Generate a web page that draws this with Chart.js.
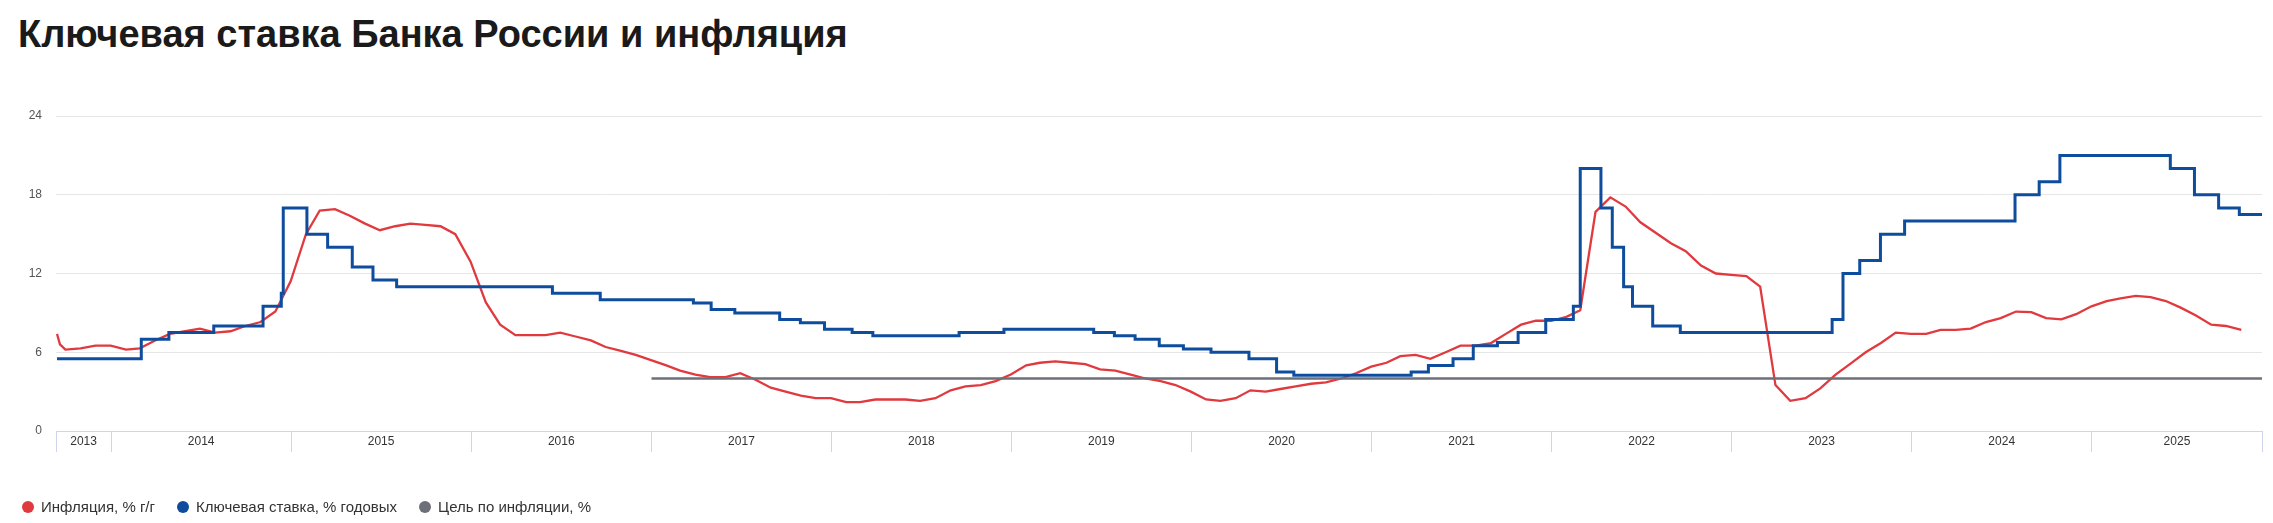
<!DOCTYPE html>
<html>
<head>
<meta charset="utf-8">
<script src="https://cdn.jsdelivr.net/npm/chart.js@4.4.1/dist/chart.umd.min.js"></script>
<style>
html,body{margin:0;padding:0;background:#fff;}
body{width:2273px;height:523px;position:relative;overflow:hidden;font-family:"Liberation Sans",Arial,sans-serif;}
#title{position:absolute;left:18px;top:10px;margin:0;font-size:38px;font-weight:bold;color:#1a1a1a;line-height:48px;white-space:nowrap;}
#wrap{position:absolute;left:0;top:0;width:2273px;height:523px;}
#legend{position:absolute;left:22px;top:497px;display:flex;align-items:center;font-size:15px;color:#333;line-height:20px;white-space:nowrap;}
.item{display:flex;align-items:center;margin-right:22px;}
.dot{width:12px;height:12px;border-radius:50%;margin-right:7px;}
</style>
</head>
<body>
<h1 id="title">Ключевая ставка Банка России и инфляция</h1>
<div id="wrap"><canvas id="c" width="2273" height="523"></canvas></div>
<div id="legend"></div>
<script>
// ---------- DATA ----------
const seriesNames = ['Инфляция, % г/г', 'Ключевая ставка, % годовых', 'Цель по инфляции, %'];

// Inflation, % y/y (first two are the short start of the series, rest are month-end values)
const inflationDates = [
  '2013-09-13','2013-09-19',
  '2013-09','2013-10','2013-11','2013-12',
  '2014-01','2014-02','2014-03','2014-04','2014-05','2014-06','2014-07','2014-08','2014-09','2014-10','2014-11','2014-12',
  '2015-01','2015-02','2015-03','2015-04','2015-05','2015-06','2015-07','2015-08','2015-09','2015-10','2015-11','2015-12',
  '2016-01','2016-02','2016-03','2016-04','2016-05','2016-06','2016-07','2016-08','2016-09','2016-10','2016-11','2016-12',
  '2017-01','2017-02','2017-03','2017-04','2017-05','2017-06','2017-07','2017-08','2017-09','2017-10','2017-11','2017-12',
  '2018-01','2018-02','2018-03','2018-04','2018-05','2018-06','2018-07','2018-08','2018-09','2018-10','2018-11','2018-12',
  '2019-01','2019-02','2019-03','2019-04','2019-05','2019-06','2019-07','2019-08','2019-09','2019-10','2019-11','2019-12',
  '2020-01','2020-02','2020-03','2020-04','2020-05','2020-06','2020-07','2020-08','2020-09','2020-10','2020-11','2020-12',
  '2021-01','2021-02','2021-03','2021-04','2021-05','2021-06','2021-07','2021-08','2021-09','2021-10','2021-11','2021-12',
  '2022-01','2022-02','2022-03','2022-04','2022-05','2022-06','2022-07','2022-08','2022-09','2022-10','2022-11','2022-12',
  '2023-01','2023-02','2023-03','2023-04','2023-05','2023-06','2023-07','2023-08','2023-09','2023-10','2023-11','2023-12',
  '2024-01','2024-02','2024-03','2024-04','2024-05','2024-06','2024-07','2024-08','2024-09','2024-10','2024-11','2024-12',
  '2025-01','2025-02','2025-03','2025-04','2025-05','2025-06','2025-07','2025-08','2025-09','2025-10'
];
const inflationValues = [
  7.4, 6.6,
  6.2, 6.3, 6.5, 6.5,
  6.2, 6.3, 6.9, 7.4, 7.6, 7.8, 7.5, 7.6, 8.0, 8.3, 9.1, 11.4,
  15.0, 16.8, 16.9, 16.4, 15.8, 15.3, 15.6, 15.8, 15.7, 15.6, 15.0, 12.9,
  9.8, 8.1, 7.3, 7.3, 7.3, 7.5, 7.2, 6.9, 6.4, 6.1, 5.8, 5.4,
  5.0, 4.6, 4.3, 4.1, 4.1, 4.4, 3.9, 3.3, 3.0, 2.7, 2.5, 2.5,
  2.2, 2.2, 2.4, 2.4, 2.4, 2.3, 2.5, 3.1, 3.4, 3.5, 3.8, 4.3,
  5.0, 5.2, 5.3, 5.2, 5.1, 4.7, 4.6, 4.3, 4.0, 3.8, 3.5, 3.0,
  2.4, 2.3, 2.5, 3.1, 3.0, 3.2, 3.4, 3.6, 3.7, 4.0, 4.4, 4.9,
  5.2, 5.7, 5.8, 5.5, 6.0, 6.5, 6.5, 6.7, 7.4, 8.1, 8.4, 8.4,
  8.7, 9.2, 16.7, 17.8, 17.1, 15.9, 15.1, 14.3, 13.7, 12.6, 12.0, 11.9,
  11.8, 11.0, 3.5, 2.3, 2.5, 3.25, 4.3, 5.15, 6.0, 6.7, 7.5, 7.4,
  7.4, 7.7, 7.7, 7.8, 8.3, 8.6, 9.1, 9.05, 8.6, 8.5, 8.9, 9.5,
  9.9, 10.1, 10.3, 10.2, 9.9, 9.4, 8.8, 8.1, 8.0, 7.7
];

// Key rate: date of decision taking effect and new level, % p.a.
const rateDates = [
  '2013-09-13','2014-03-03','2014-04-28','2014-07-28','2014-11-05','2014-12-12','2014-12-16',
  '2015-02-02','2015-03-16','2015-05-05','2015-06-16','2015-08-03',
  '2016-06-14','2016-09-19',
  '2017-03-27','2017-05-02','2017-06-19','2017-09-18','2017-10-30','2017-12-18',
  '2018-02-12','2018-03-26','2018-09-17','2018-12-17',
  '2019-06-17','2019-07-29','2019-09-09','2019-10-28','2019-12-16',
  '2020-02-10','2020-04-27','2020-06-22','2020-07-27',
  '2021-03-22','2021-04-26','2021-06-15','2021-07-26','2021-09-13','2021-10-25','2021-12-20',
  '2022-02-14','2022-02-28','2022-04-11','2022-05-04','2022-05-27','2022-06-14','2022-07-25','2022-09-19',
  '2023-07-24','2023-08-15','2023-09-18','2023-10-30','2023-12-18',
  '2024-07-29','2024-09-16','2024-10-28',
  '2025-06-09','2025-07-28','2025-09-15','2025-10-27'
];
const rateValues = [
  5.5, 7.0, 7.5, 8.0, 9.5, 10.5, 17.0,
  15.0, 14.0, 12.5, 11.5, 11.0,
  10.5, 10.0,
  9.75, 9.25, 9.0, 8.5, 8.25, 7.75,
  7.5, 7.25, 7.5, 7.75,
  7.5, 7.25, 7.0, 6.5, 6.25,
  6.0, 5.5, 4.5, 4.25,
  4.5, 5.0, 5.5, 6.5, 6.75, 7.5, 8.5,
  9.5, 20.0, 17.0, 14.0, 11.0, 9.5, 8.0, 7.5,
  8.5, 12.0, 13.0, 15.0, 16.0,
  18.0, 19.0, 21.0,
  20.0, 18.0, 17.0, 16.5
];

// Inflation target
const targetDates = ['2017-01-01', '2025-12-12'];
const targetValues = [4, 4];

// Axis
const xStart = '2013-09-11';
const xEnd = '2025-12-12';
const yearLabels = ['2013','2014','2015','2016','2017','2018','2019','2020','2021','2022','2023','2024','2025'];
const yTicks = [0, 6, 12, 18, 24];

const colors = ['#e0393e', '#0e4d9e', '#6e7079'];

// ---------- BUILD ----------
function toMs(s) {
  if (s.length > 7) return Date.parse(s + 'T00:00:00Z');
  const [y, m] = s.split('-').map(Number);
  return Date.UTC(y, m, 0); // month end
}
const xMin = toMs(xStart), xMax = toMs(xEnd);

const inflationData = inflationDates.map((d, i) => ({x: toMs(d), y: inflationValues[i]}));
const rateData = rateDates.map((d, i) => ({x: toMs(d), y: rateValues[i]}));
rateData.push({x: xMax, y: rateValues[rateValues.length - 1]});
const targetData = targetDates.map((d, i) => ({x: toMs(d), y: targetValues[i]}));

const boundaries = [xMin];
yearLabels.slice(1).forEach(y => boundaries.push(Date.UTC(+y, 0, 1)));
boundaries.push(xMax);
const boundarySet = new Set(boundaries);
const labelMap = new Map();
yearLabels.forEach((y, i) => labelMap.set((boundaries[i] + boundaries[i + 1]) / 2, y));
const allTicks = boundaries.concat([...labelMap.keys()]).sort((a, b) => a - b);

Chart.defaults.font.family = '"Liberation Sans", Arial, sans-serif';

new Chart(document.getElementById('c'), {
  type: 'line',
  data: {
    datasets: [
      {label: seriesNames[0], data: inflationData, borderColor: colors[0], backgroundColor: colors[0],
       borderWidth: 2.3, pointRadius: 0, tension: 0, order: 3},
      {label: seriesNames[1], data: rateData, borderColor: colors[1], backgroundColor: colors[1],
       borderWidth: 3, pointRadius: 0, stepped: 'before', order: 2},
      {label: seriesNames[2], data: targetData, borderColor: colors[2], backgroundColor: colors[2],
       borderWidth: 2.5, pointRadius: 0, order: 1}
    ]
  },
  options: {
    responsive: false,
    animation: false,
    devicePixelRatio: 1,
    layout: {padding: {top: 116, right: 11, bottom: 71, left: 0}},
    plugins: {legend: {display: false}, tooltip: {enabled: false}},
    scales: {
      x: {
        type: 'linear', min: xMin, max: xMax,
        afterBuildTicks: s => { s.ticks = allTicks.map(v => ({value: v})); },
        afterFit: s => { s.height = 21; },
        border: {display: true, color: '#ccd6eb', width: 1},
        grid: {drawOnChartArea: false, drawTicks: true, tickLength: 21,
               color: ctx => (ctx.tick && boundarySet.has(ctx.tick.value)) ? '#ccd6eb' : 'rgba(0,0,0,0)'},
        ticks: {autoSkip: false, maxRotation: 0, minRotation: 0, padding: -18, color: '#333',
                font: {size: 12}, callback: v => labelMap.has(v) ? labelMap.get(v) : ''}
      },
      y: {
        min: 0, max: 24,
        afterBuildTicks: s => { s.ticks = yTicks.map(v => ({value: v})); },
        afterFit: s => { s.width = 56; },
        border: {display: false},
        grid: {color: '#e6e6e6', drawTicks: false, lineWidth: 1},
        ticks: {color: '#555', font: {size: 12}, padding: 14}
      }
    }
  }
});

// HTML legend
const leg = document.getElementById('legend');
seriesNames.forEach((n, i) => {
  const it = document.createElement('div'); it.className = 'item';
  const d = document.createElement('span'); d.className = 'dot'; d.style.background = colors[i];
  const t = document.createElement('span'); t.textContent = n;
  it.appendChild(d); it.appendChild(t); leg.appendChild(it);
});
</script>
</body>
</html>
